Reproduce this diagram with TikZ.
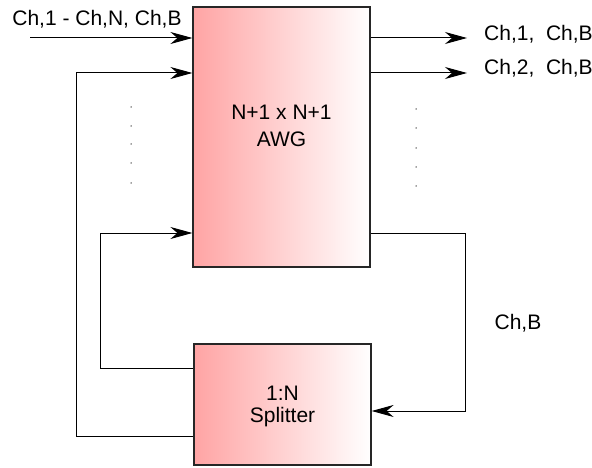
\documentclass[tikz,border=0pt]{standalone}
\usepackage{fontspec}
\setmainfont{Liberation Sans}
\usetikzlibrary{arrows.meta}
\definecolor{boxpink}{RGB}{255,164,164}
\tikzset{
  blk/.style={draw=black!85, line width=1.2pt, left color=boxpink, right color=white, shading angle=90, inner sep=0pt},
  lbl/.style={font=\fontsize{21}{25}\selectfont, inner sep=0pt, anchor=base},
  wire/.style={line width=1pt, black},
  arr/.style={wire, -{Stealth[length=22pt,width=12pt,inset=7pt]}},
  pt/.style={circle, fill=black!75, inner sep=0pt, minimum size=1.5pt}
}
\begin{document}
\begin{tikzpicture}[x=1pt,y=-1pt]
\useasboundingbox (0,0) rectangle (592,468);
% boxes
\node[blk, minimum width=177pt, minimum height=260pt] (awg) at (281.5,137) {};
\node[blk, minimum width=177pt, minimum height=121pt] (spl) at (282.5,404.5) {};
% box texts
\node[lbl] (awgt1) at (281.5,120) {N+1 x N+1};
\node[lbl] (awgt2) at (281.5,147) {AWG};
\node[lbl] (splt1) at (282.5,400) {1:N};
\node[lbl] (splt2) at (282.5,422) {Splitter};
% labels
\node[lbl] (inlbl) at (97,26) {Ch,1 - Ch,N, Ch,B};
\node[lbl, anchor=base west] (out1) at (484,41) {Ch,1,\ \ Ch,B};
\node[lbl, anchor=base west] (out2) at (484,75) {Ch,2,\ \ Ch,B};
\node[lbl] (chb) at (518,329) {Ch,B};
% coordinates
\coordinate (in1) at (30,38);
\coordinate (o1) at (467,38);
\coordinate (o2) at (467,73);
\coordinate (loopA) at (76,73);
\coordinate (loopB) at (100,233);
\coordinate (back) at (465,233);
% input
\draw[arr] (in1) -- (in1 -| awg.west);
% outputs
\draw[arr] (o1 -| awg.east) -- (o1);
\draw[arr] (o2 -| awg.east) -- (o2);
% outer loop from splitter lower port
\draw[arr] (spl.west |- 0,436) -| (loopA) -- (loopA -| awg.west);
% inner loop from splitter upper port
\draw[arr] (spl.west |- 0,368) -| (loopB) -- (loopB -| awg.west);
% feedback from AWG to splitter
\draw[arr] (awg.east |- back) -- (back) |- (spl.east |- 0,411);
% dots
\foreach \y [count=\i] in {107,126,144,163,183} \node[pt] (dl\i) at (131,\y) {};
\foreach \y [count=\i] in {109,128,148,167,186} \node[pt] (dr\i) at (416,\y) {};
\end{tikzpicture}
\end{document}
